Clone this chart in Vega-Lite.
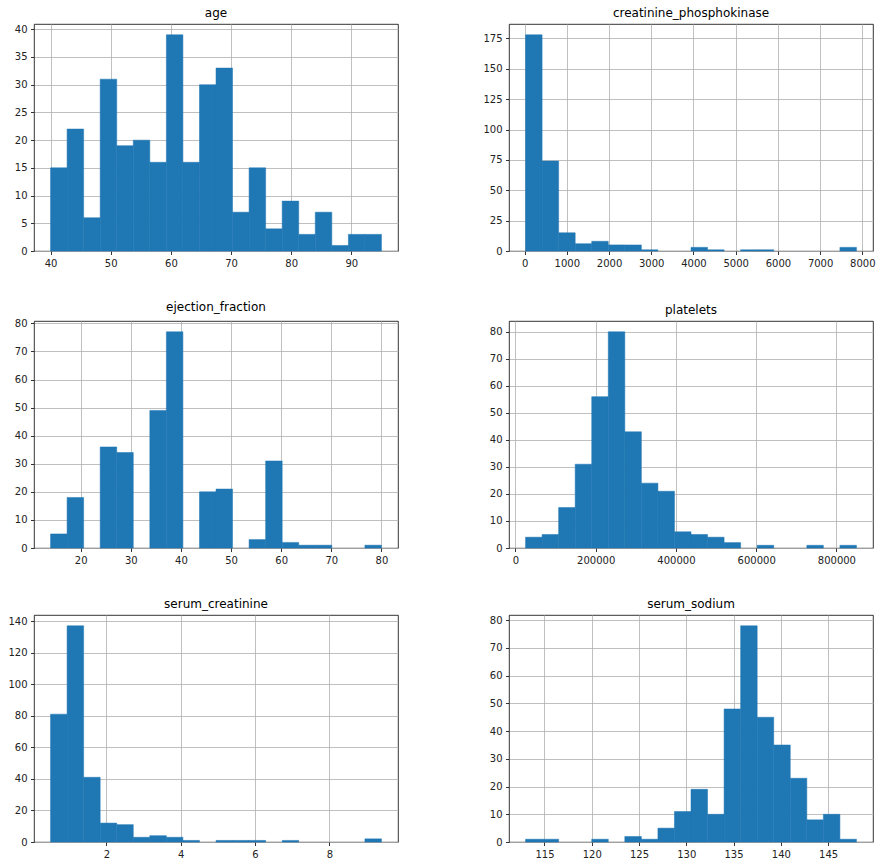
{
  "$schema": "https://vega.github.io/schema/vega-lite/v6.json",
  "padding": {"left": 6, "top": 6, "right": 0, "bottom": 0},
  "background": "white",
  "columns": 2,
  "spacing": {"row": 28, "column": 82},
  "config": {
    "font": "DejaVu Sans",
    "view": {"stroke": "black", "strokeWidth": 0.8},
    "title": {"fontSize": 12, "fontWeight": "normal", "color": "black", "offset": 4, "font": "DejaVu Sans"},
    "axis": {
      "grid": true, "gridColor": "#b0b0b0", "gridWidth": 0.8, "zindex": 1,
      "domain": false, "tickColor": "black", "tickSize": 3.5, "tickWidth": 0.8,
      "labelFontSize": 10, "labelColor": "#222", "labelPadding": 3.5, "title": null,
      "labelFont": "DejaVu Sans", "labelFlush": false, "labelOverlap": false
    },
    "axisX": {"minExtent": 20, "maxExtent": 20},
    "axisY": {"minExtent": 27, "maxExtent": 27},
    "rect": {"color": "#1f77b4", "stroke": "#1f77b4", "strokeWidth": 0.5}
  },
  "datasets": {
    "age": [
      {"start": 40, "end": 42.75, "count": 15},
      {"start": 42.75, "end": 45.5, "count": 22},
      {"start": 45.5, "end": 48.25, "count": 6},
      {"start": 48.25, "end": 51, "count": 31},
      {"start": 51, "end": 53.75, "count": 19},
      {"start": 53.75, "end": 56.5, "count": 20},
      {"start": 56.5, "end": 59.25, "count": 16},
      {"start": 59.25, "end": 62, "count": 39},
      {"start": 62, "end": 64.75, "count": 16},
      {"start": 64.75, "end": 67.5, "count": 30},
      {"start": 67.5, "end": 70.25, "count": 33},
      {"start": 70.25, "end": 73, "count": 7},
      {"start": 73, "end": 75.75, "count": 15},
      {"start": 75.75, "end": 78.5, "count": 4},
      {"start": 78.5, "end": 81.25, "count": 9},
      {"start": 81.25, "end": 84, "count": 3},
      {"start": 84, "end": 86.75, "count": 7},
      {"start": 86.75, "end": 89.5, "count": 1},
      {"start": 89.5, "end": 92.25, "count": 3},
      {"start": 92.25, "end": 95, "count": 3}
    ],
    "cpk": [
      {"start": 23, "end": 414.9, "count": 178},
      {"start": 414.9, "end": 806.8, "count": 74},
      {"start": 806.8, "end": 1198.7, "count": 15},
      {"start": 1198.7, "end": 1590.6, "count": 6},
      {"start": 1590.6, "end": 1982.5, "count": 8},
      {"start": 1982.5, "end": 2374.4, "count": 5},
      {"start": 2374.4, "end": 2766.3, "count": 5},
      {"start": 2766.3, "end": 3158.2, "count": 1},
      {"start": 3942, "end": 4333.9, "count": 3},
      {"start": 4333.9, "end": 4725.8, "count": 1},
      {"start": 5117.7, "end": 5509.6, "count": 1},
      {"start": 5509.6, "end": 5901.5, "count": 1},
      {"start": 7469.1, "end": 7861, "count": 3}
    ],
    "ef": [
      {"start": 14, "end": 17.3, "count": 5},
      {"start": 17.3, "end": 20.6, "count": 18},
      {"start": 23.9, "end": 27.2, "count": 36},
      {"start": 27.2, "end": 30.5, "count": 34},
      {"start": 33.8, "end": 37.1, "count": 49},
      {"start": 37.1, "end": 40.4, "count": 77},
      {"start": 43.7, "end": 47, "count": 20},
      {"start": 47, "end": 50.3, "count": 21},
      {"start": 53.6, "end": 56.9, "count": 3},
      {"start": 56.9, "end": 60.2, "count": 31},
      {"start": 60.2, "end": 63.5, "count": 2},
      {"start": 63.5, "end": 66.8, "count": 1},
      {"start": 66.8, "end": 70.1, "count": 1},
      {"start": 76.7, "end": 80, "count": 1}
    ],
    "platelets": [
      {"start": 25100, "end": 66345, "count": 4},
      {"start": 66345, "end": 107590, "count": 5},
      {"start": 107590, "end": 148835, "count": 15},
      {"start": 148835, "end": 190080, "count": 31},
      {"start": 190080, "end": 231325, "count": 56},
      {"start": 231325, "end": 272570, "count": 80},
      {"start": 272570, "end": 313815, "count": 43},
      {"start": 313815, "end": 355060, "count": 24},
      {"start": 355060, "end": 396305, "count": 21},
      {"start": 396305, "end": 437550, "count": 6},
      {"start": 437550, "end": 478795, "count": 5},
      {"start": 478795, "end": 520040, "count": 4},
      {"start": 520040, "end": 561285, "count": 2},
      {"start": 602530, "end": 643775, "count": 1},
      {"start": 726265, "end": 767510, "count": 1},
      {"start": 808755, "end": 850000, "count": 1}
    ],
    "sc": [
      {"start": 0.5, "end": 0.945, "count": 81},
      {"start": 0.945, "end": 1.39, "count": 137},
      {"start": 1.39, "end": 1.835, "count": 41},
      {"start": 1.835, "end": 2.28, "count": 12},
      {"start": 2.28, "end": 2.725, "count": 11},
      {"start": 2.725, "end": 3.17, "count": 3},
      {"start": 3.17, "end": 3.615, "count": 4},
      {"start": 3.615, "end": 4.06, "count": 3},
      {"start": 4.06, "end": 4.505, "count": 1},
      {"start": 4.95, "end": 5.395, "count": 1},
      {"start": 5.395, "end": 5.84, "count": 1},
      {"start": 5.84, "end": 6.285, "count": 1},
      {"start": 6.73, "end": 7.175, "count": 1},
      {"start": 8.955, "end": 9.4, "count": 2}
    ],
    "sodium": [
      {"start": 113, "end": 114.75, "count": 1},
      {"start": 114.75, "end": 116.5, "count": 1},
      {"start": 120, "end": 121.75, "count": 1},
      {"start": 123.5, "end": 125.25, "count": 2},
      {"start": 125.25, "end": 127, "count": 1},
      {"start": 127, "end": 128.75, "count": 5},
      {"start": 128.75, "end": 130.5, "count": 11},
      {"start": 130.5, "end": 132.25, "count": 19},
      {"start": 132.25, "end": 134, "count": 10},
      {"start": 134, "end": 135.75, "count": 48},
      {"start": 135.75, "end": 137.5, "count": 78},
      {"start": 137.5, "end": 139.25, "count": 45},
      {"start": 139.25, "end": 141, "count": 35},
      {"start": 141, "end": 142.75, "count": 23},
      {"start": 142.75, "end": 144.5, "count": 8},
      {"start": 144.5, "end": 146.25, "count": 10},
      {"start": 146.25, "end": 148, "count": 1}
    ]
  },
  "concat": [
    {
      "title": "age", "width": 364, "height": 227,
      "data": {"name": "age"},
      "mark": "rect",
      "encoding": {
        "x": {"field": "start", "type": "quantitative", "scale": {"domain": [37.25, 97.75], "nice": false, "zero": false}, "axis": {"values": [40, 50, 60, 70, 80, 90], "format": "d"}},
        "x2": {"field": "end"},
        "y": {"field": "count", "type": "quantitative", "scale": {"domain": [0, 40.95], "nice": false}, "axis": {"values": [0, 5, 10, 15, 20, 25, 30, 35, 40]}},
        "y2": {"datum": 0}
      }
    },
    {
      "title": "creatinine_phosphokinase", "width": 364, "height": 227,
      "data": {"name": "cpk"},
      "mark": "rect",
      "encoding": {
        "x": {"field": "start", "type": "quantitative", "scale": {"domain": [-368.9, 8252.9], "nice": false, "zero": false}, "axis": {"values": [0, 1000, 2000, 3000, 4000, 5000, 6000, 7000, 8000], "format": "d"}},
        "x2": {"field": "end"},
        "y": {"field": "count", "type": "quantitative", "scale": {"domain": [0, 186.9], "nice": false}, "axis": {"values": [0, 25, 50, 75, 100, 125, 150, 175]}},
        "y2": {"datum": 0}
      }
    },
    {
      "title": "ejection_fraction", "width": 364, "height": 227,
      "data": {"name": "ef"},
      "mark": "rect",
      "encoding": {
        "x": {"field": "start", "type": "quantitative", "scale": {"domain": [10.7, 83.3], "nice": false, "zero": false}, "axis": {"values": [20, 30, 40, 50, 60, 70, 80], "format": "d"}},
        "x2": {"field": "end"},
        "y": {"field": "count", "type": "quantitative", "scale": {"domain": [0, 80.85], "nice": false}, "axis": {"values": [0, 10, 20, 30, 40, 50, 60, 70, 80]}},
        "y2": {"datum": 0}
      }
    },
    {
      "title": "platelets", "width": 364, "height": 227,
      "data": {"name": "platelets"},
      "mark": "rect",
      "encoding": {
        "x": {"field": "start", "type": "quantitative", "scale": {"domain": [-16145, 891245], "nice": false, "zero": false}, "axis": {"values": [0, 200000, 400000, 600000, 800000], "format": "d"}},
        "x2": {"field": "end"},
        "y": {"field": "count", "type": "quantitative", "scale": {"domain": [0, 84], "nice": false}, "axis": {"values": [0, 10, 20, 30, 40, 50, 60, 70, 80]}},
        "y2": {"datum": 0}
      }
    },
    {
      "title": "serum_creatinine", "width": 364, "height": 227,
      "data": {"name": "sc"},
      "mark": "rect",
      "encoding": {
        "x": {"field": "start", "type": "quantitative", "scale": {"domain": [0.055, 9.845], "nice": false, "zero": false}, "axis": {"values": [2, 4, 6, 8], "format": "d"}},
        "x2": {"field": "end"},
        "y": {"field": "count", "type": "quantitative", "scale": {"domain": [0, 143.85], "nice": false}, "axis": {"values": [0, 20, 40, 60, 80, 100, 120, 140]}},
        "y2": {"datum": 0}
      }
    },
    {
      "title": "serum_sodium", "width": 364, "height": 227,
      "data": {"name": "sodium"},
      "mark": "rect",
      "encoding": {
        "x": {"field": "start", "type": "quantitative", "scale": {"domain": [111.25, 149.75], "nice": false, "zero": false}, "axis": {"values": [115, 120, 125, 130, 135, 140, 145], "format": "d"}},
        "x2": {"field": "end"},
        "y": {"field": "count", "type": "quantitative", "scale": {"domain": [0, 81.9], "nice": false}, "axis": {"values": [0, 10, 20, 30, 40, 50, 60, 70, 80]}},
        "y2": {"datum": 0}
      }
    }
  ]
}
